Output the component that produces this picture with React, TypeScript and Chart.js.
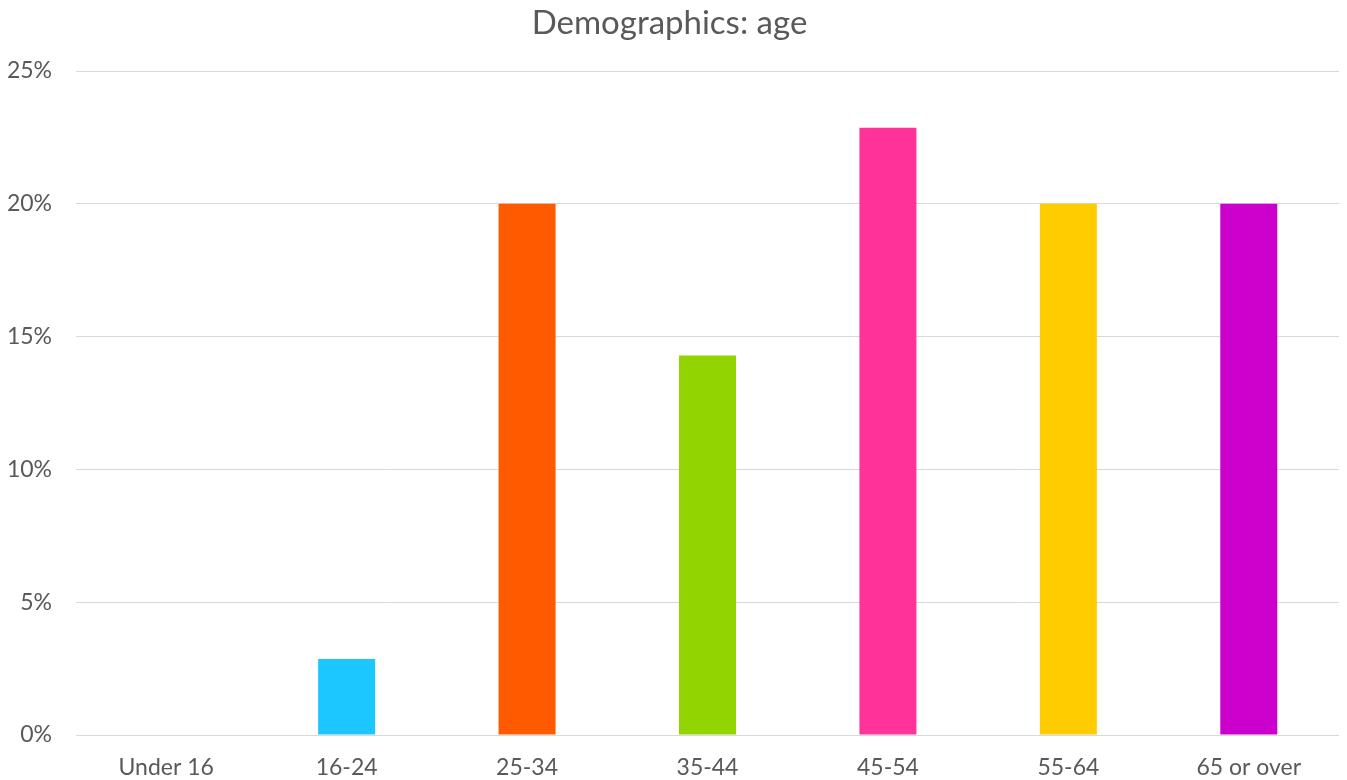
import React, { useEffect, useRef } from "react";
import { Chart, registerables } from "chart.js";

Chart.register(...registerables);

const categories = ["Under 16", "16-24", "25-34", "35-44", "45-54", "55-64", "65 or over"];
const values = [0, 2.86, 20, 14.29, 22.86, 20, 20];
const barColors = ["#1CC7FF", "#1CC7FF", "#FF5A00", "#92D400", "#FF3399", "#FFCC00", "#CC00CC"];
const yTicks = [0, 5, 10, 15, 20, 25];
const titleText = "Demographics: age";

const FONT = "Lato, 'Open Sans', sans-serif";
const TEXT = "#595959";

export default function App() {
  const ref = useRef<HTMLCanvasElement | null>(null);
  useEffect(() => {
    if (!ref.current) return;
    const chart = new Chart(ref.current, {
      type: "bar",
      data: {
        labels: categories,
        datasets: [
          {
            data: values,
            backgroundColor: barColors,
            borderWidth: 0,
            categoryPercentage: 1,
            barPercentage: 0.316,
          },
        ],
      },
      options: {
        animation: false,
        responsive: false,
        maintainAspectRatio: false,
        layout: { padding: { left: 0, right: 8, top: 0, bottom: 0 } },
        plugins: {
          legend: { display: false },
          tooltip: { enabled: false },
          title: {
            display: true,
            text: titleText,
            color: TEXT,
            font: { family: FONT, size: 33, weight: "normal" },
            padding: { top: 4, bottom: 27.4 },
          },
        },
        scales: {
          x: {
            grid: { display: false, drawTicks: false },
            border: { display: false },
            ticks: {
              color: TEXT,
              font: { family: FONT, size: 23 },
              padding: 19,
              maxRotation: 0,
              autoSkip: false,
            },
            afterFit: (s: any) => {
              s.height = 45;
            },
          },
          y: {
            min: 0,
            max: 25,
            afterBuildTicks: (s: any) => {
              s.ticks = yTicks.map((v) => ({ value: v }));
            },
            grid: { color: "#D9D9D9", lineWidth: 1, drawTicks: false },
            border: { display: false },
            ticks: {
              color: TEXT,
              font: { family: FONT, size: 23 },
              padding: 24,
              callback: (v: any) => `${v}%`,
            },
            afterFit: (s: any) => {
              s.width = 76;
            },
          },
        },
      },
    });
    return () => chart.destroy();
  }, []);
  return (
    <div style={{ position: "fixed", left: 0, top: 0, width: 1347, height: 780, background: "#fff" }}>
      <canvas ref={ref} width={1347} height={780} style={{ display: "block" }} />
    </div>
  );
}
